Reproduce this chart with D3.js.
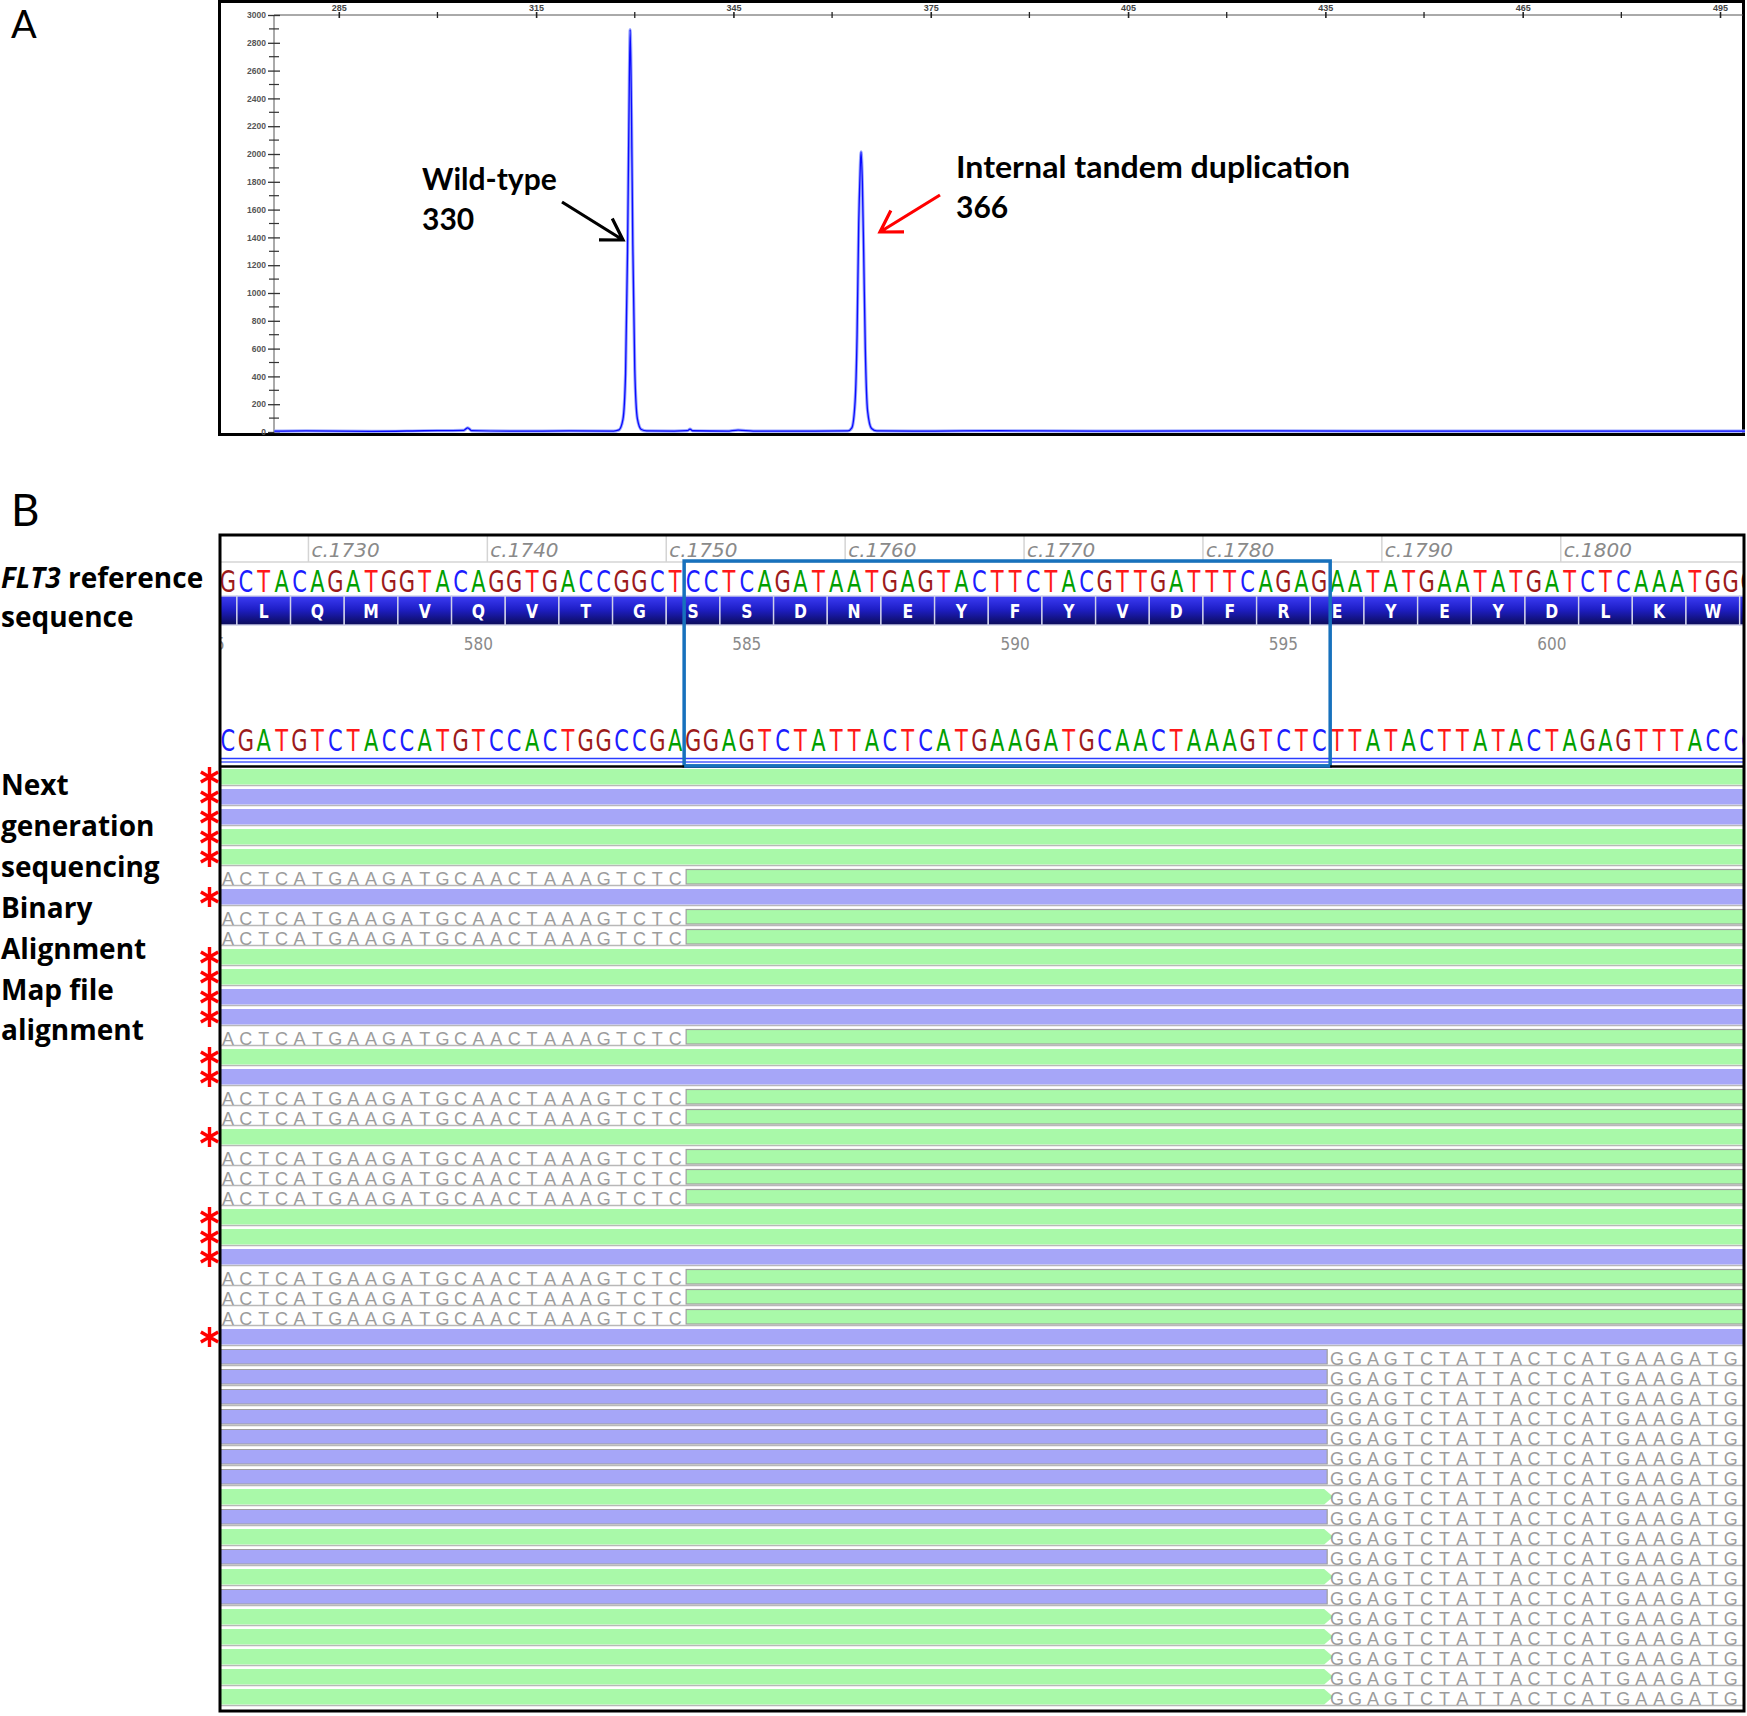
<!DOCTYPE html>
<html lang="en">
<head>
<meta charset="utf-8">
<title>FLT3 ITD - fragment analysis and NGS alignment</title>
<script src="https://cdn.jsdelivr.net/npm/d3@7"></script>
<style>
 body { margin: 0; background: #fff; }
 svg { display: block; }
</style>
</head>
<body>
<div id="chart"></div>
<script>
// ---- Panel A: capillary trace (size in bp, height in RFU)
const traceSize = [275.2, 280, 290, 298, 304.0, 304.6, 305.2, 312, 320, 326.8, 327.6, 328.2, 328.6, 328.9, 329.1,
  329.3, 329.5, 329.7, 330.0, 330.4, 331.0, 331.8, 336, 338.0, 338.4, 338.8, 344, 345.7, 348, 355, 362.4, 363.0,
  363.5, 363.8, 364.05, 364.25, 364.4, 364.6, 364.8, 365.05, 365.4, 366.0, 366.8, 375, 385, 400, 420, 440, 460, 480, 498.8];
const traceRfu = [6, 8, 5, 9, 12, 30, 10, 6, 8, 7, 15, 90, 420, 1300, 2200,
  2895, 2300, 1350, 450, 95, 18, 8, 7, 10, 20, 9, 6, 14, 7, 6, 8, 30,
  220, 700, 1500, 1850, 2016, 1800, 1300, 600, 150, 25, 8, 6, 9, 6, 8, 6, 7, 6, 6];
const sizeTicks = [285, 315, 345, 375, 405, 435, 465, 495];
const sizeMinor = [300, 330, 360, 390, 420, 450, 480];
const rfuTicks = [0, 200, 400, 600, 800, 1000, 1200, 1400, 1600, 1800, 2000, 2200, 2400, 2600, 2800, 3000];
const rfuMinor = [100, 300, 500, 700, 900, 1100, 1300, 1500, 1700, 1900, 2100, 2300, 2500, 2700, 2900];

// ---- Panel B: reference, translation, complement and reads
const refSeq  = "GCTACAGATGGTACAGGTGACCGGCTCCTCAGATAATGAGTACTTCTACGTTGATTTCAGAGAATATGAATATGATCTCAAATGGG";
const compSeq = "CGATGTCTACCATGTCCACTGGCCGAGGAGTCTATTACTCATGAAGATGCAACTAAAGTCTCTTATACTTATACTAGAGTTTACCC";
const cTicks = [1730, 1740, 1750, 1760, 1770, 1780, 1790, 1800];
const aaSeq = "QLQMVQVTGSSDNEYFYVDFREYEYDLKWE"; // codons 575..604
const aaFirst = 575;
const aaTicks = [575, 580, 585, 590, 595, 600];
const itdStart = 26, itdEnd = 62;  // base index of the boxed duplication
const clipLeftSeq = "ACTCATGAAGATGCAACTAAAGTCTC";
const clipRightSeq = "GGAGTCTATTACTCATGAAGATGC";
// strand per read row: f = forward (green), r = reverse (purple)
const readStrand = ["f","r","r","f","f","f","r","f","f","f","f","r","r","f","f","r","f","f","f","f","f","f","f","f","r","f","f","f","r",
  "r","r","r","r","r","r","r","f","r","f","r","f","r","f","f","f","f","f"];
// clipping per read row: n = none (wild-type, flagged *), L = soft clip on the left, R = soft clip on the right
const readClip = ["n","n","n","n","n","L","n","L","L","n","n","n","n","L","n","n","L","L","n","L","L","L","n","n","n","L","L","L","n",
  "R","R","R","R","R","R","R","R","R","R","R","R","R","R","R","R","R","R"];
const baseColor = {A: "#00a000", C: "#1c1cff", G: "#9c1a1a", T: "#ff1818"};

const W = 1747, H = 1716;
const svg = d3.select("#chart").append("svg")
  .attr("width", W).attr("height", H)
  .style("font-family", "Lato, sans-serif");

// ================= Panel A =================
const xA = d3.scaleLinear().domain([285, 495]).range([338.8, 1720]);
const yA = d3.scaleLinear().domain([0, 3000]).range([432, 15]);

svg.append("text").attr("x", 11).attr("y", 38)
  .attr("font-size", 38).text("A");

svg.append("rect").attr("x", 219.5).attr("y", 1.5).attr("width", 1524).attr("height", 433)
  .attr("fill", "none").attr("stroke", "#000").attr("stroke-width", 3);

// top size axis
svg.append("line").attr("x1", 274).attr("x2", 1743).attr("y1", 15).attr("y2", 15)
  .attr("stroke", "#555").attr("stroke-width", 1);
const topAxis = svg.append("g").attr("transform", "translate(0,15)")
  .call(d3.axisTop(xA).tickValues(sizeTicks).tickSize(3).tickPadding(1).tickFormat(d3.format("d")));
topAxis.select(".domain").remove();
topAxis.selectAll(".tick line").attr("y1", 3).attr("stroke", "#222").attr("stroke-width", 1.6);
topAxis.selectAll(".tick text").attr("font-size", 9).attr("font-family", "Liberation Sans, Arial")
  .attr("font-weight", "bold").attr("fill", "#444");
svg.append("g").selectAll("line").data(sizeMinor).join("line")
  .attr("x1", d => xA(d)).attr("x2", d => xA(d)).attr("y1", 12).attr("y2", 18)
  .attr("stroke", "#222").attr("stroke-width", 1.3);

// left RFU axis
svg.append("line").attr("x1", 274).attr("x2", 274).attr("y1", 15).attr("y2", 432)
  .attr("stroke", "#555");
const leftAxis = svg.append("g").attr("transform", "translate(274,0)")
  .call(d3.axisLeft(yA).tickValues(rfuTicks).tickSize(6).tickPadding(2).tickFormat(d3.format("d")));
leftAxis.select(".domain").remove();
leftAxis.selectAll(".tick line").attr("x1", 6).attr("stroke", "#333").attr("stroke-width", 1.3);
leftAxis.selectAll(".tick text").attr("font-size", 8.5).attr("font-family", "Liberation Sans, Arial")
  .attr("font-weight", "bold").attr("fill", "#555");
svg.append("g").selectAll("line").data(rfuMinor).join("line")
  .attr("x1", 269).attr("x2", 279).attr("y1", d => yA(d)).attr("y2", d => yA(d))
  .attr("stroke", "#333").attr("stroke-width", 1.2);

// trace
const trace = traceSize.map((s, i) => ({s: s, v: traceRfu[i]}));
const traceLine = d3.line().x(d => xA(d.s)).y(d => yA(d.v)).curve(d3.curveMonotoneX);
svg.append("path").attr("d", traceLine(trace)).attr("fill", "none")
  .attr("stroke", "#9aa6ff").attr("stroke-width", 3.2);
svg.append("path").attr("d", traceLine(trace)).attr("fill", "none")
  .attr("stroke", "#0a0aff").attr("stroke-width", 1.3);

// annotations
function arrow(x1, y1, x2, y2, color) {
  const a = Math.atan2(y2 - y1, x2 - x1), L = 24, s = 0.55;
  const p = `M${x1},${y1}L${x2},${y2}` +
    `M${x2 - L * Math.cos(a - s)},${y2 - L * Math.sin(a - s)}L${x2},${y2}` +
    `L${x2 - L * Math.cos(a + s)},${y2 - L * Math.sin(a + s)}`;
  svg.append("path").attr("d", p).attr("fill", "none").attr("stroke", color)
    .attr("stroke-width", 3.2).attr("stroke-linejoin", "miter");
}
svg.append("text").attr("x", 422).attr("y", 190).attr("font-size", 30).attr("font-weight", "bold").text("Wild-type");
svg.append("text").attr("x", 422).attr("y", 230).attr("font-size", 30).attr("font-weight", "bold").text("330");
arrow(562, 202, 623, 240, "#000");
svg.append("text").attr("x", 956).attr("y", 178).attr("font-size", 30).attr("font-weight", "bold")
  .attr("textLength", 394).attr("lengthAdjust", "spacingAndGlyphs")
  .text("Internal tandem duplication");
svg.append("text").attr("x", 956).attr("y", 218).attr("font-size", 30).attr("font-weight", "bold").text("366");
arrow(940, 195, 880, 232, "#ff0000");

// ================= Panel B =================
const xB = d3.scaleLinear().domain([0, 85]).range([219, 219 + 85 * 17.89]);
const bw = xB(1) - xB(0);
const rowY = d3.scaleBand().domain(d3.range(readStrand.length)).range([767, 767 + readStrand.length * 20]);

svg.append("text").attr("x", 11).attr("y", 526).attr("font-size", 44).text("B");

const defs = svg.append("defs");
defs.append("clipPath").attr("id", "clipB").append("rect")
  .attr("x", 220).attr("y", 535).attr("width", 1523).attr("height", 1176);
const grad = defs.append("linearGradient").attr("id", "aaGrad").attr("x1", 0).attr("x2", 0).attr("y1", 0).attr("y2", 1);
grad.append("stop").attr("offset", 0).attr("stop-color", "#3c3cf4");
grad.append("stop").attr("offset", 0.45).attr("stop-color", "#1f1fc8");
grad.append("stop").attr("offset", 1).attr("stop-color", "#0b0b58");

const gB = svg.append("g").attr("clip-path", "url(#clipB)");

// ruler
gB.append("line").attr("x1", 219).attr("x2", 1745).attr("y1", 562).attr("y2", 562)
  .attr("stroke", "#d4d4d4").attr("stroke-width", 1.5);
gB.append("g").selectAll("line").data(cTicks).join("line")
  .attr("x1", d => xB(d - 1725)).attr("x2", d => xB(d - 1725)).attr("y1", 536).attr("y2", 562)
  .attr("stroke", "#d4d4d4").attr("stroke-width", 1.5);
gB.append("g").selectAll("text").data(cTicks).join("text")
  .attr("x", d => xB(d - 1725) + 3).attr("y", 557)
  .attr("font-family", "DejaVu Sans").attr("font-style", "italic").attr("font-size", 20)
  .attr("fill", "#8a8a8a").text(d => "c." + d);

// sequence letters
function seqRow(seq, baseline) {
  gB.append("g").selectAll("text").data(seq.split("")).join("text")
    .attr("transform", (d, i) => `translate(${xB(i) + bw / 2},${baseline}) scale(0.7,1)`)
    .attr("text-anchor", "middle").attr("font-family", "DejaVu Sans").attr("font-size", 30)
    .attr("fill", d => baseColor[d]).text(d => d);
}
seqRow(refSeq, 592);

// translation
const aa = aaSeq.split("").map((d, k) => ({aa: d, n: aaFirst + k}));
const codonStart = n => 1 + 3 * (n - 576);
gB.append("g").selectAll("rect").data(aa).join("rect")
  .attr("x", d => xB(codonStart(d.n))).attr("y", 596)
  .attr("width", 3 * bw).attr("height", 29)
  .attr("fill", "url(#aaGrad)").attr("stroke", "#cfd0ea").attr("stroke-width", 1.4);
gB.append("g").selectAll("text").data(aa).join("text")
  .attr("transform", d => `translate(${xB(codonStart(d.n) + 1.5)},618) scale(0.78,1)`)
  .attr("text-anchor", "middle").attr("font-family", "DejaVu Sans").attr("font-weight", "bold")
  .attr("font-size", 20).attr("fill", "#fff").text(d => d.aa);
gB.append("g").selectAll("text").data(aaTicks).join("text")
  .attr("transform", d => `translate(${xB(codonStart(d) + 1.5)},650) scale(0.85,1)`)
  .attr("text-anchor", "middle").attr("font-family", "DejaVu Sans").attr("font-size", 18)
  .attr("fill", "#8a8a8a").text(d => d);

// complement strand
seqRow(compSeq, 751);
gB.append("line").attr("x1", 219).attr("x2", 1745).attr("y1", 758.5).attr("y2", 758.5)
  .attr("stroke", "#2a3cff").attr("stroke-width", 1.4);
gB.append("line").attr("x1", 219).attr("x2", 1745).attr("y1", 762).attr("y2", 762)
  .attr("stroke", "#4a5cff").attr("stroke-width", 1.4);

// reads
const fill = {f: "#a9f9a9", r: "#a6a6f8"};
const reads = readStrand.map((s, i) => ({i: i, s: s, c: readClip[i]}));
const rows = gB.append("g").selectAll("g").data(reads).join("g")
  .attr("transform", d => `translate(0,${rowY(d.i)})`);
rows.append("line").attr("x1", 219).attr("x2", 1745).attr("y1", 18.5).attr("y2", 18.5)
  .attr("stroke", "#b8b8b8").attr("stroke-width", 1.3);
rows.filter(d => d.c === "n").append("rect")
  .attr("x", 219).attr("y", 2).attr("width", 1526).attr("height", 15.5).attr("fill", d => fill[d.s]);
rows.filter(d => d.c === "L").append("rect")
  .attr("x", xB(itdStart) + 2).attr("y", 2.5).attr("width", 1745 - xB(itdStart)).attr("height", 14.5)
  .attr("fill", d => fill[d.s]).attr("stroke", "#a0a0a0").attr("stroke-width", 1.2);
rows.filter(d => d.c === "R").append("path")
  .attr("d", d => {
    const xe = xB(itdEnd);
    return d.s === "f"
      ? `M218,2H${xe - 4}L${xe + 5},9.75L${xe - 4},17.5H218Z`
      : `M218,2.5H${xe - 1}V17H218Z`;
  })
  .attr("fill", d => fill[d.s]).attr("stroke", d => d.s === "f" ? "none" : "#a0a0a0").attr("stroke-width", 1.2);
function clipText(sel, seq, start) {
  sel.selectAll("text.b").data(seq.split("")).join("text").attr("class", "b")
    .attr("x", (d, k) => xB(start + k) + bw / 2).attr("y", 17.5)
    .attr("text-anchor", "middle").attr("font-family", "Liberation Sans, Arial").attr("font-size", 18)
    .attr("fill", "#9c9c9c").text(d => d);
}
rows.filter(d => d.c === "L").call(clipText, clipLeftSeq, 0);
rows.filter(d => d.c === "R").call(clipText, clipRightSeq, itdEnd);

// duplication box
gB.append("rect").attr("x", xB(itdStart)).attr("y", 561).attr("width", xB(itdEnd) - xB(itdStart) + 2).attr("height", 205)
  .attr("fill", "none").attr("stroke", "#1771bd").attr("stroke-width", 3.5);

// frames
svg.append("rect").attr("x", 220).attr("y", 535).attr("width", 1524).attr("height", 1176)
  .attr("fill", "none").attr("stroke", "#000").attr("stroke-width", 3);
svg.append("line").attr("x1", 219).attr("x2", 1745).attr("y1", 766.5).attr("y2", 766.5)
  .attr("stroke", "#000").attr("stroke-width", 2.5);
// re-draw the bottom edge of the duplication box over the frame line
svg.append("line").attr("x1", xB(itdStart)).attr("x2", xB(itdEnd) + 2).attr("y1", 766).attr("y2", 766)
  .attr("stroke", "#1771bd").attr("stroke-width", 3.5);

// flags for wild-type reads
const star = d3.symbol().type(d3.symbolAsterisk).size(280);
svg.append("g").selectAll("path").data(reads.filter(d => d.c === "n")).join("path")
  .attr("transform", d => `translate(209.5,${rowY(d.i) + 10})`)
  .attr("d", star).attr("fill", "none").attr("stroke", "#ff0000").attr("stroke-width", 3.4);

// row labels
const refLabelLines = [["FLT3", " reference"], ["", "sequence"]];
const refLabel = svg.append("g").attr("font-family", "Open Sans, sans-serif")
  .attr("font-size", 28).attr("font-weight", "bold");
refLabelLines.forEach((ln, k) => {
  const t = refLabel.append("text").attr("x", 1).attr("y", 588 + k * 39);
  if (ln[0]) t.append("tspan").attr("font-style", "italic").text(ln[0]);
  t.append("tspan").text(ln[1]);
});
const ngsLabel = ["Next", "generation", "sequencing", "Binary", "Alignment", "Map file", "alignment"];
svg.append("g").selectAll("text").data(ngsLabel).join("text")
  .attr("x", 1).attr("y", (d, k) => 795 + k * 40.9)
  .attr("font-family", "Open Sans, sans-serif")
  .attr("font-size", 28).attr("font-weight", "bold").text(d => d);
</script>
</body>
</html>
